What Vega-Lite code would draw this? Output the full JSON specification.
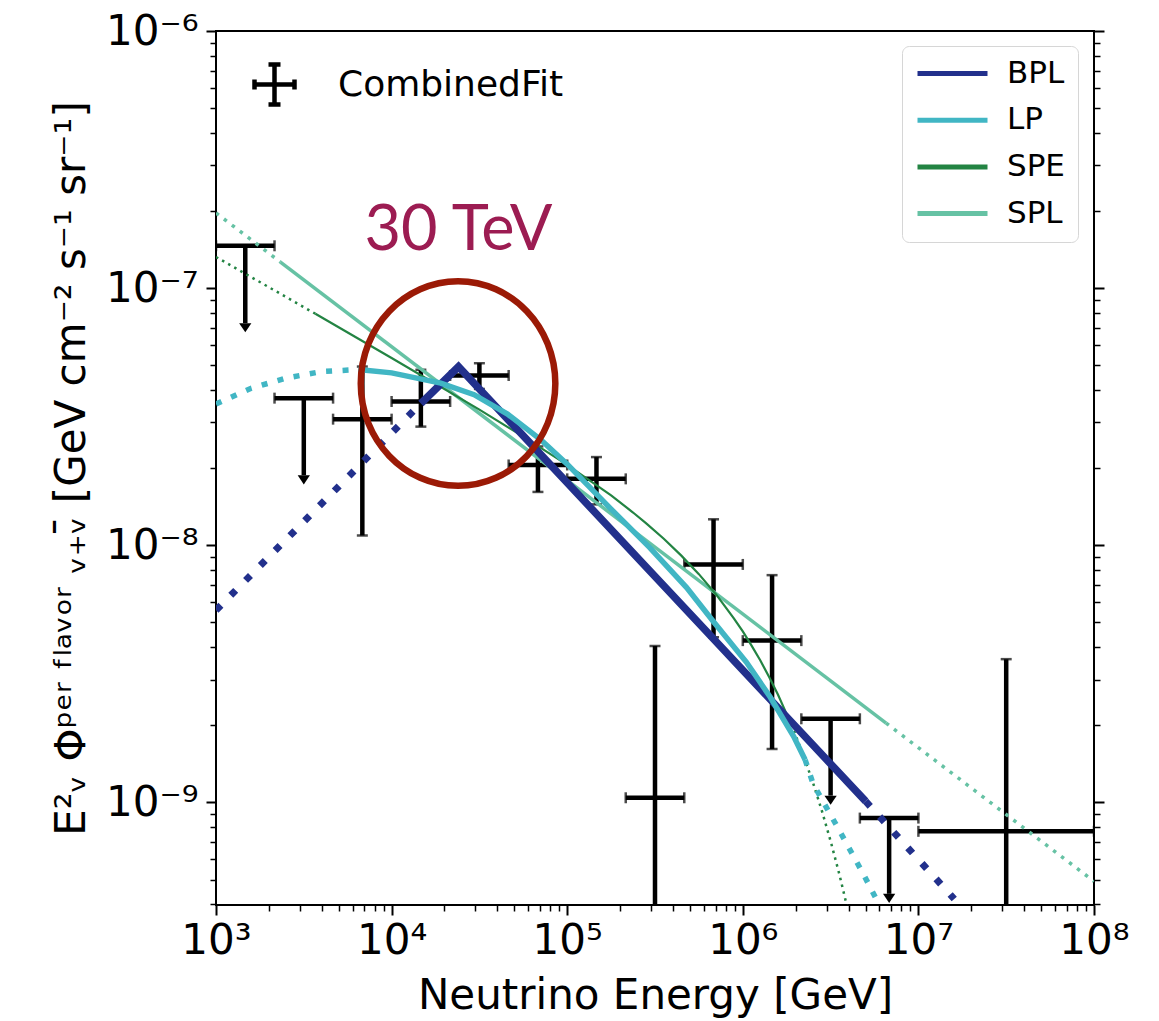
{
  "$schema": "https://vega.github.io/schema/vega-lite/v6.json",
  "width": 878,
  "height": 874,
  "autosize": {"type": "none"},
  "padding": {"left": 216, "top": 31, "right": 65, "bottom": 116},
  "background": "white",
  "config": {
    "font": "DejaVu Sans",
    "view": {"stroke": "black", "strokeWidth": 2},
    "axis": {"domain": false, "grid": false, "tickColor": "black", "labelColor": "black", "titleColor": "black", "labelFont": "DejaVu Sans", "titleFont": "DejaVu Sans"}
  },
  "datasets": {
    "points": [
      {"E": 1468, "xlo": 1000, "xhi": 2154, "flux": 1.46e-7, "ylo": 7.3e-8, "yhi": 1.46e-7, "kind": "limit", "source": "CombinedFit"},
      {"E": 3162, "xlo": 2154, "xhi": 4642, "flux": 3.73e-8, "ylo": 1.87e-8, "yhi": 3.73e-8, "kind": "limit", "source": "CombinedFit"},
      {"E": 6813, "xlo": 4642, "xhi": 10000, "flux": 3.09e-8, "ylo": 1.09e-8, "yhi": 4.95e-8, "kind": "point", "source": "CombinedFit"},
      {"E": 14678, "xlo": 10000, "xhi": 21544, "flux": 3.62e-8, "ylo": 2.89e-8, "yhi": 4.81e-8, "kind": "point", "source": "CombinedFit"},
      {"E": 31623, "xlo": 21544, "xhi": 46416, "flux": 4.57e-8, "ylo": 4.05e-8, "yhi": 5.1e-8, "kind": "point", "source": "CombinedFit"},
      {"E": 68129, "xlo": 46416, "xhi": 100000, "flux": 2.05e-8, "ylo": 1.61e-8, "yhi": 2.42e-8, "kind": "point", "source": "CombinedFit"},
      {"E": 146780, "xlo": 100000, "xhi": 215443, "flux": 1.81e-8, "ylo": 1.44e-8, "yhi": 2.2e-8, "kind": "point", "source": "CombinedFit"},
      {"E": 316228, "xlo": 215443, "xhi": 464159, "flux": 1.04e-9, "ylo": 1e-10, "yhi": 4.05e-9, "kind": "point", "source": "CombinedFit"},
      {"E": 681292, "xlo": 464159, "xhi": 1000000, "flux": 8.41e-9, "ylo": 4.38e-9, "yhi": 1.26e-8, "kind": "point", "source": "CombinedFit"},
      {"E": 1467799, "xlo": 1000000, "xhi": 2154435, "flux": 4.25e-9, "ylo": 1.61e-9, "yhi": 7.64e-9, "kind": "point", "source": "CombinedFit"},
      {"E": 3162278, "xlo": 2154435, "xhi": 4641589, "flux": 2.11e-9, "ylo": 1.06e-9, "yhi": 2.11e-9, "kind": "limit", "source": "CombinedFit"},
      {"E": 6812921, "xlo": 4641589, "xhi": 10000000, "flux": 8.67e-10, "ylo": 4.4e-10, "yhi": 8.67e-10, "kind": "limit", "source": "CombinedFit"},
      {"E": 31622777, "xlo": 10000000, "xhi": 100000000, "flux": 7.7e-10, "ylo": 1e-10, "yhi": 3.6e-9, "kind": "point", "source": "CombinedFit"}
    ],
    "curves": [
      {"model": "BPL", "part": "low", "E": 1000, "flux": 5.58e-9},
      {"model": "BPL", "part": "low", "E": 14678, "flux": 3.556e-8},
      {"model": "BPL", "part": "mid", "E": 14678, "flux": 3.556e-8},
      {"model": "BPL", "part": "mid", "E": 24044, "flux": 4.943e-8},
      {"model": "BPL", "part": "mid", "E": 5000000, "flux": 1.009e-9},
      {"model": "BPL", "part": "high", "E": 5000000, "flux": 1.009e-9},
      {"model": "BPL", "part": "high", "E": 16000000, "flux": 4.2e-10},
      {"model": "LP", "part": "low", "E": 1000, "flux": 3.54e-8},
      {"model": "LP", "part": "low", "E": 1585, "flux": 4.074e-8},
      {"model": "LP", "part": "low", "E": 2512, "flux": 4.467e-8},
      {"model": "LP", "part": "low", "E": 3981, "flux": 4.732e-8},
      {"model": "LP", "part": "low", "E": 6457, "flux": 4.819e-8},
      {"model": "LP", "part": "mid", "E": 6457, "flux": 4.819e-8},
      {"model": "LP", "part": "mid", "E": 10000, "flux": 4.677e-8},
      {"model": "LP", "part": "mid", "E": 19055, "flux": 4.266e-8},
      {"model": "LP", "part": "mid", "E": 29512, "flux": 3.846e-8},
      {"model": "LP", "part": "mid", "E": 45709, "flux": 3.236e-8},
      {"model": "LP", "part": "mid", "E": 70795, "flux": 2.57e-8},
      {"model": "LP", "part": "mid", "E": 100000, "flux": 2.065e-8},
      {"model": "LP", "part": "mid", "E": 177828, "flux": 1.38e-8},
      {"model": "LP", "part": "mid", "E": 295121, "flux": 9.772e-9},
      {"model": "LP", "part": "mid", "E": 478630, "flux": 6.839e-9},
      {"model": "LP", "part": "mid", "E": 676083, "flux": 5.07e-9},
      {"model": "LP", "part": "mid", "E": 1047129, "flux": 3.508e-9},
      {"model": "LP", "part": "mid", "E": 1428894, "flux": 2.57e-9},
      {"model": "LP", "part": "mid", "E": 1949845, "flux": 1.799e-9},
      {"model": "LP", "part": "mid", "E": 2264644, "flux": 1.462e-9},
      {"model": "LP", "part": "high", "E": 2264644, "flux": 1.462e-9},
      {"model": "LP", "part": "high", "E": 2511886, "flux": 1.18e-9},
      {"model": "LP", "part": "high", "E": 3499452, "flux": 7.889e-10},
      {"model": "LP", "part": "high", "E": 4852885, "flux": 5.26e-10},
      {"model": "LP", "part": "high", "E": 6309573, "flux": 3.715e-10},
      {"model": "SPE", "part": "low", "E": 1000, "flux": 1.321e-7},
      {"model": "SPE", "part": "low", "E": 3681, "flux": 7.943e-8},
      {"model": "SPE", "part": "mid", "E": 3681, "flux": 7.943e-8},
      {"model": "SPE", "part": "mid", "E": 10000, "flux": 5.346e-8},
      {"model": "SPE", "part": "mid", "E": 31623, "flux": 3.365e-8},
      {"model": "SPE", "part": "mid", "E": 56234, "flux": 2.643e-8},
      {"model": "SPE", "part": "mid", "E": 100000, "flux": 2.051e-8},
      {"model": "SPE", "part": "mid", "E": 177828, "flux": 1.56e-8},
      {"model": "SPE", "part": "mid", "E": 237137, "flux": 1.339e-8},
      {"model": "SPE", "part": "mid", "E": 281838, "flux": 1.215e-8},
      {"model": "SPE", "part": "mid", "E": 354813, "flux": 1.059e-8},
      {"model": "SPE", "part": "mid", "E": 446684, "flux": 9.1e-9},
      {"model": "SPE", "part": "mid", "E": 562341, "flux": 7.71e-9},
      {"model": "SPE", "part": "mid", "E": 707946, "flux": 6.4e-9},
      {"model": "SPE", "part": "mid", "E": 891251, "flux": 5.18e-9},
      {"model": "SPE", "part": "mid", "E": 1000000, "flux": 4.613e-9},
      {"model": "SPE", "part": "mid", "E": 1122018, "flux": 4.064e-9},
      {"model": "SPE", "part": "mid", "E": 1258925, "flux": 3.556e-9},
      {"model": "SPE", "part": "mid", "E": 1412538, "flux": 3.069e-9},
      {"model": "SPE", "part": "mid", "E": 1584893, "flux": 2.624e-9},
      {"model": "SPE", "part": "mid", "E": 1819701, "flux": 2.123e-9},
      {"model": "SPE", "part": "high", "E": 1819701, "flux": 2.123e-9},
      {"model": "SPE", "part": "high", "E": 1995262, "flux": 1.828e-9},
      {"model": "SPE", "part": "high", "E": 2238721, "flux": 1.486e-9},
      {"model": "SPE", "part": "high", "E": 2511886, "flux": 1.189e-9},
      {"model": "SPE", "part": "high", "E": 2818383, "flux": 9.268e-10},
      {"model": "SPE", "part": "high", "E": 3162278, "flux": 7.06e-10},
      {"model": "SPE", "part": "high", "E": 3548134, "flux": 5.236e-10},
      {"model": "SPE", "part": "high", "E": 3981072, "flux": 3.767e-10},
      {"model": "SPL", "part": "low", "E": 1000, "flux": 1.96e-7},
      {"model": "SPL", "part": "low", "E": 2328, "flux": 1.262e-7},
      {"model": "SPL", "part": "mid", "E": 2328, "flux": 1.262e-7},
      {"model": "SPL", "part": "mid", "E": 6546000, "flux": 2.03e-9},
      {"model": "SPL", "part": "high", "E": 6546000, "flux": 2.03e-9},
      {"model": "SPL", "part": "high", "E": 100000000, "flux": 4.92e-10}
    ],
    "annot": [
      {"E": 23900, "flux": 4.25e-8, "label": "30 TeV", "tx": 7000, "ty": 1.41e-7}
    ]
  },
  "resolve": {"axis": {"x": "independent", "y": "independent"}},
  "layer": [
    {
      "data": {"name": "points"},
      "mark": {"type": "rule", "strokeWidth": 4.5, "color": "black", "clip": true},
      "encoding": {
        "x": {
          "field": "xlo", "type": "quantitative",
          "scale": {"type": "log", "domain": [1000, 100000000], "nice": false},
          "axis": {
            "orient": "bottom",
            "values": [1000, 10000, 100000, 1000000, 10000000, 100000000],
            "labelExpr": "'10' + ['³','⁴','⁵','⁶','⁷','⁸'][round(log(datum.value)/LN10) - 3]",
            "labelFontSize": 42, "labelPadding": 5, "labelFlush": false, "labelOverlap": false,
            "tickSize": 10, "tickWidth": 2,
            "title": "Neutrino Energy [GeV]", "titleFontSize": 42, "titleFontWeight": "normal", "titlePadding": 14
          }
        },
        "x2": {"field": "xhi"},
        "y": {
          "field": "flux", "type": "quantitative",
          "scale": {"type": "log", "domain": [3.98e-10, 1e-6], "nice": false},
          "axis": {
            "orient": "left",
            "values": [1e-9, 1e-8, 1e-7, 1e-6],
            "labelExpr": "'10' + ['⁻⁹','⁻⁸','⁻⁷','⁻⁶'][round(log(datum.value)/LN10) + 9]",
            "labelFontSize": 42, "labelPadding": 8, "labelFlush": false, "labelOverlap": false,
            "tickSize": 10, "tickWidth": 2,
            "title": "E²ᵥ Φᵖᵉʳ ᶠˡᵃᵛᵒʳ ᵥ₊ᵥ̄ [GeV cm⁻² s⁻¹ sr⁻¹]", "titleFontSize": 42, "titleFontWeight": "normal", "titlePadding": 12
          }
        }
      }
    },
    {
      "data": {"name": "points"},
      "mark": {"type": "rule", "strokeWidth": 4.5, "color": "black", "clip": true},
      "encoding": {
        "x": {
          "field": "E", "type": "quantitative",
          "axis": {
            "orient": "bottom", "labels": false, "title": null, "tickSize": 6, "tickWidth": 1.5,
            "values": [2000, 3000, 4000, 5000, 6000, 7000, 8000, 9000, 20000, 30000, 40000, 50000, 60000, 70000, 80000, 90000, 200000, 300000, 400000, 500000, 600000, 700000, 800000, 900000, 2000000, 3000000, 4000000, 5000000, 6000000, 7000000, 8000000, 9000000, 20000000, 30000000, 40000000, 50000000, 60000000, 70000000, 80000000, 90000000]
          }
        },
        "y": {
          "field": "ylo", "type": "quantitative",
          "axis": {
            "orient": "left", "labels": false, "title": null, "tickSize": 6, "tickWidth": 1.5,
            "values": [4e-10, 5e-10, 6e-10, 7e-10, 8e-10, 9e-10, 2e-9, 3e-9, 4e-9, 5e-9, 6e-9, 7e-9, 8e-9, 9e-9, 2e-8, 3e-8, 4e-8, 5e-8, 6e-8, 7e-8, 8e-8, 9e-8, 2e-7, 3e-7, 4e-7, 5e-7, 6e-7, 7e-7, 8e-7, 9e-7]
          }
        },
        "y2": {"field": "yhi"}
      }
    },
    {
      "data": {"name": "points"},
      "mark": {"type": "tick", "orient": "vertical", "size": 11, "thickness": 2.5, "color": "black", "clip": true},
      "encoding": {
        "x": {"field": "xlo", "type": "quantitative", "axis": null},
        "y": {
          "field": "flux", "type": "quantitative",
          "axis": {"orient": "right", "labels": false, "title": null, "tickSize": 10, "tickWidth": 2, "values": [1e-9, 1e-8, 1e-7, 1e-6]}
        }
      }
    },
    {
      "data": {"name": "points"},
      "mark": {"type": "tick", "orient": "vertical", "size": 11, "thickness": 2.5, "color": "black", "clip": true},
      "encoding": {
        "x": {"field": "xhi", "type": "quantitative", "axis": null},
        "y": {
          "field": "flux", "type": "quantitative",
          "axis": {
            "orient": "right", "labels": false, "title": null, "tickSize": 6, "tickWidth": 1.5,
            "values": [4e-10, 5e-10, 6e-10, 7e-10, 8e-10, 9e-10, 2e-9, 3e-9, 4e-9, 5e-9, 6e-9, 7e-9, 8e-9, 9e-9, 2e-8, 3e-8, 4e-8, 5e-8, 6e-8, 7e-8, 8e-8, 9e-8, 2e-7, 3e-7, 4e-7, 5e-7, 6e-7, 7e-7, 8e-7, 9e-7]
          }
        }
      }
    },
    {
      "data": {"name": "points"},
      "transform": [{"filter": "datum.kind == 'point'"}],
      "mark": {"type": "tick", "orient": "horizontal", "size": 11, "thickness": 2.5, "color": "black", "clip": true},
      "encoding": {
        "x": {"field": "E", "type": "quantitative", "axis": null},
        "y": {"field": "ylo", "type": "quantitative", "axis": null}
      }
    },
    {
      "data": {"name": "points"},
      "transform": [{"filter": "datum.kind == 'point'"}],
      "mark": {"type": "tick", "orient": "horizontal", "size": 11, "thickness": 2.5, "color": "black", "clip": true},
      "encoding": {
        "x": {"field": "E", "type": "quantitative", "axis": null},
        "y": {"field": "yhi", "type": "quantitative", "axis": null}
      }
    },
    {
      "data": {"name": "points"},
      "transform": [{"filter": "datum.kind == 'limit'"}],
      "mark": {"type": "point", "shape": "M -1 0 L 1 0 L 0 1.5 Z", "size": 150, "filled": true, "color": "black", "opacity": 1, "clip": true},
      "encoding": {
        "x": {"field": "E", "type": "quantitative", "axis": null},
        "y": {"field": "ylo", "type": "quantitative", "axis": null}
      }
    },
    {
      "data": {"name": "curves"},
      "transform": [{"filter": "datum.model == 'SPL' && datum.part == 'mid'"}],
      "mark": {"type": "line", "strokeWidth": 3.5, "clip": true},
      "encoding": {
        "x": {"field": "E", "type": "quantitative", "axis": null},
        "y": {"field": "flux", "type": "quantitative", "axis": null},
        "color": {
          "field": "model", "type": "nominal",
          "scale": {"domain": ["BPL", "LP", "SPE", "SPL"], "range": ["#22308c", "#41b6c4", "#238443", "#66c2a4"]},
          "legend": {
            "title": null, "orient": "none", "legendX": 686, "legendY": 15,
            "symbolType": "stroke", "symbolSize": 4900, "symbolStrokeWidth": 5, "clipHeight": 29, "labelLimit": 300,
            "labelFontSize": 31, "labelFont": "DejaVu Sans", "labelColor": "black", "labelOffset": 17,
            "rowPadding": 14.7, "padding": 13,
            "strokeColor": "#d6d6d6", "fillColor": "rgba(255,255,255,0.8)", "cornerRadius": 7
          }
        }
      }
    },
    {
      "data": {"name": "curves"},
      "transform": [{"filter": "datum.model == 'SPL' && datum.part != 'mid'"}],
      "mark": {"type": "line", "strokeWidth": 3.5, "strokeDash": [3.5, 6.5], "clip": true},
      "encoding": {
        "x": {"field": "E", "type": "quantitative", "axis": null},
        "y": {"field": "flux", "type": "quantitative", "axis": null},
        "detail": {"field": "part"},
        "color": {"field": "model", "type": "nominal", "legend": null}
      }
    },
    {
      "data": {"name": "curves"},
      "transform": [{"filter": "datum.model == 'SPE' && datum.part == 'mid'"}],
      "mark": {"type": "line", "strokeWidth": 2.2, "clip": true},
      "encoding": {
        "x": {"field": "E", "type": "quantitative", "axis": null},
        "y": {"field": "flux", "type": "quantitative", "axis": null},
        "color": {"field": "model", "type": "nominal", "legend": null}
      }
    },
    {
      "data": {"name": "curves"},
      "transform": [{"filter": "datum.model == 'SPE' && datum.part != 'mid'"}],
      "mark": {"type": "line", "strokeWidth": 2.5, "strokeDash": [2.5, 4.5], "clip": true},
      "encoding": {
        "x": {"field": "E", "type": "quantitative", "axis": null},
        "y": {"field": "flux", "type": "quantitative", "axis": null},
        "detail": {"field": "part"},
        "color": {"field": "model", "type": "nominal", "legend": null}
      }
    },
    {
      "data": {"name": "curves"},
      "transform": [{"filter": "datum.model == 'BPL' && datum.part == 'mid'"}],
      "mark": {"type": "line", "strokeWidth": 7.5, "clip": true},
      "encoding": {
        "x": {"field": "E", "type": "quantitative", "axis": null},
        "y": {"field": "flux", "type": "quantitative", "axis": null},
        "color": {"field": "model", "type": "nominal", "legend": null}
      }
    },
    {
      "data": {"name": "curves"},
      "transform": [{"filter": "datum.model == 'BPL' && datum.part != 'mid'"}],
      "mark": {"type": "line", "strokeWidth": 7, "strokeDash": [7, 14], "clip": true},
      "encoding": {
        "x": {"field": "E", "type": "quantitative", "axis": null},
        "y": {"field": "flux", "type": "quantitative", "axis": null},
        "detail": {"field": "part"},
        "color": {"field": "model", "type": "nominal", "legend": null}
      }
    },
    {
      "data": {"name": "curves"},
      "transform": [{"filter": "datum.model == 'LP' && datum.part == 'mid'"}],
      "mark": {"type": "line", "strokeWidth": 5.5, "clip": true},
      "encoding": {
        "x": {"field": "E", "type": "quantitative", "axis": null},
        "y": {"field": "flux", "type": "quantitative", "axis": null},
        "color": {"field": "model", "type": "nominal", "legend": null}
      }
    },
    {
      "data": {"name": "curves"},
      "transform": [{"filter": "datum.model == 'LP' && datum.part != 'mid'"}],
      "mark": {"type": "line", "strokeWidth": 5.5, "strokeDash": [6, 10.5], "clip": true},
      "encoding": {
        "x": {"field": "E", "type": "quantitative", "axis": null},
        "y": {"field": "flux", "type": "quantitative", "axis": null},
        "detail": {"field": "part"},
        "color": {"field": "model", "type": "nominal", "legend": null}
      }
    },
    {
      "data": {"name": "points"},
      "mark": {"type": "point", "size": 1600, "opacity": 0, "color": "black", "filled": false},
      "encoding": {
        "x": {"field": "E", "type": "quantitative", "axis": null},
        "y": {"field": "flux", "type": "quantitative", "axis": null},
        "shape": {
          "field": "source", "type": "nominal",
          "scale": {"domain": ["CombinedFit"], "range": ["M -1 0 L 1 0 M -1 -0.25 L -1 0.25 M 1 -0.25 L 1 0.25 M 0 -1 L 0 1 M -0.3 -1 L 0.3 -1 M -0.3 1 L 0.3 1"]},
          "legend": {
            "title": null, "orient": "none", "legendX": 36, "legendY": 31, "padding": 0,
            "symbolSize": 1600, "symbolOpacity": 1, "symbolStrokeColor": "black", "symbolStrokeWidth": 4.5, "symbolFillColor": "transparent",
            "labelFontSize": 36, "labelFont": "DejaVu Sans", "labelColor": "black", "labelOffset": 41, "labelLimit": 400
          }
        }
      }
    },
    {
      "data": {"name": "annot"},
      "mark": {"type": "point", "shape": "M -0.951 0 A 0.951 1 0 1 0 0.951 0 A 0.951 1 0 1 0 -0.951 0 Z", "size": 41861, "filled": false, "color": "#9b1a06", "strokeWidth": 6.5, "opacity": 1},
      "encoding": {
        "x": {"field": "E", "type": "quantitative", "axis": null},
        "y": {"field": "flux", "type": "quantitative", "axis": null}
      }
    },
    {
      "data": {"name": "annot"},
      "mark": {"type": "text", "font": "Lato", "fontSize": 63, "align": "left", "baseline": "alphabetic", "color": "#9c1c52"},
      "encoding": {
        "x": {"field": "tx", "type": "quantitative", "axis": null},
        "y": {"field": "ty", "type": "quantitative", "axis": null},
        "text": {"field": "label"}
      }
    }
  ]
}
